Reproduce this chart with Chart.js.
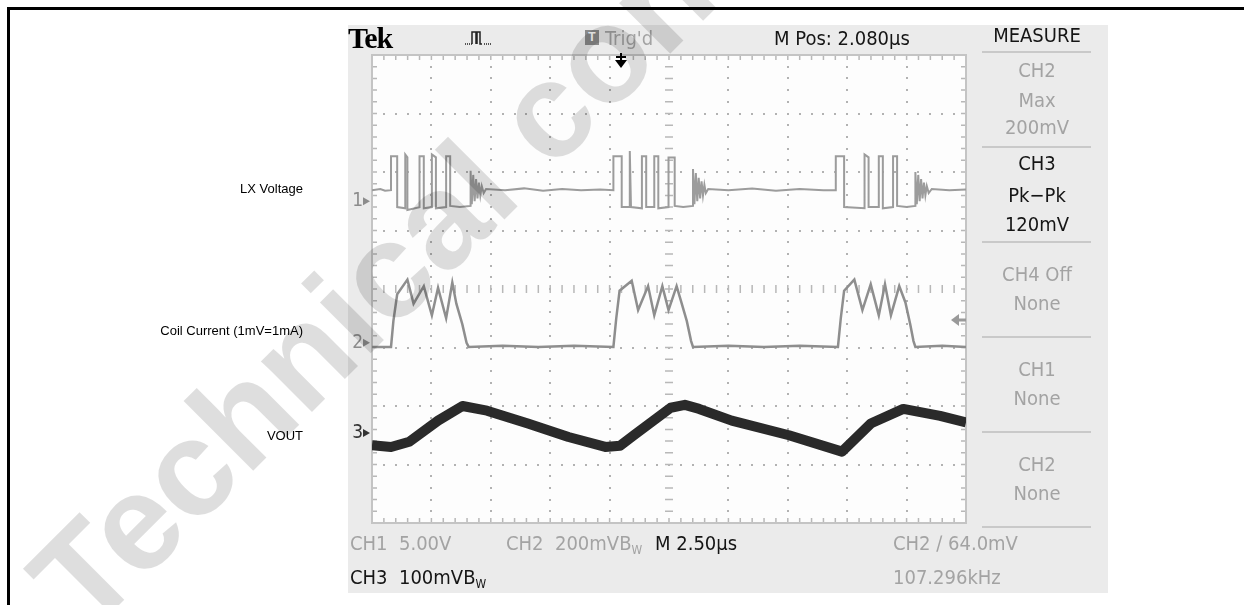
<!DOCTYPE html>
<html lang="en">
<head>
<meta charset="UTF-8">
<title>Scope capture - LX Voltage / Coil Current / VOUT</title>
<script src="https://cdn.jsdelivr.net/npm/chart.js"></script>
<style>
    body {
        margin: 0;
        width: 1244px;
        height: 605px;
        overflow: hidden;
        background: #fff;
        position: relative;
        font-family: "Liberation Sans", Arial, sans-serif;
    }
    #frame {
        position: absolute;
        left: 7px; top: 7px;
        width: 1300px; height: 700px;
        border-left: 3px solid #000;
        border-top: 3px solid #000;
    }
    #panel {
        position: absolute;
        left: 348px; top: 25px;
        width: 760px; height: 568px;
        background: #ebebeb;
    }
    #scope { position: absolute; left: 0; top: 0; }
    .lbl {
        position: absolute;
        left: 3px; width: 300px;
        text-align: right;
        font-size: 13px; line-height: 14px;
        color: #000;
    }
    .t {
        position: absolute;
        font-family: "DejaVu Sans Condensed", "Liberation Sans Narrow", sans-serif;
        font-size: 20px; line-height: 22px;
        white-space: pre;
        color: #151515;
    }
    .g { color: #a3a3a3; }
    .m { left: 982px; width: 110px; text-align: center; }
    .sep {
        position: absolute;
        left: 982px; width: 109px; height: 2px;
        background: #c9c9c9;
    }
    .bw { font-size: 12px; position: relative; top: 4px; }
    #tek {
        position: absolute; left: 348px; top: 22px;
        font-family: "Liberation Serif", "DejaVu Serif", serif;
        font-weight: bold; font-size: 30px; line-height: 32px;
        letter-spacing: -1px; color: #000;
    }
    #tbox {
        position: absolute; left: 585px; top: 30px;
        width: 14px; height: 15px;
        background: #8a8a8a; color: #fff;
        font: bold 12px/15px "Liberation Sans", sans-serif;
        text-align: center;
    }
    #wm { position: absolute; left: 0; top: 0; pointer-events: none; }
</style>
</head>
<body>
<div id="frame"></div>
<div id="panel"></div>
<canvas id="scope" width="1244" height="605"></canvas>

<!-- channel labels left of the screen -->
<div class="lbl" style="top:182px">LX Voltage</div>
<div class="lbl" style="top:324px">Coil Current (1mV=1mA)</div>
<div class="lbl" style="top:429px">VOUT</div>

<!-- header -->
<div id="tek">Tek</div>
<svg style="position:absolute;left:463px;top:28px" width="32" height="20">
    <path d="M2 16h1M4 16h1M6 16h1M8 16h1" stroke="#222" stroke-width="1.5"/>
    <path d="M9 16V4h4v12M14 16V4h3v12h2" stroke="#222" stroke-width="1.5" fill="none"/>
    <path d="M21 16h1M23 16h1M25 16h1M27 16h1" stroke="#222" stroke-width="1.5"/>
</svg>
<div id="tbox">T</div>
<div class="t g" style="left:605px;top:27px">Trig'd</div>
<div class="t" style="left:774px;top:27px">M Pos: 2.080µs</div>

<!-- measure menu -->
<div class="t m" style="top:24px">MEASURE</div>
<div class="sep" style="top:51px"></div>
<div class="t m g" style="top:59px">CH2</div>
<div class="t m g" style="top:89px">Max</div>
<div class="t m g" style="top:116px">200mV</div>
<div class="sep" style="top:146px"></div>
<div class="t m" style="top:152px">CH3</div>
<div class="t m" style="top:184px">Pk−Pk</div>
<div class="t m" style="top:213px">120mV</div>
<div class="sep" style="top:241px"></div>
<div class="t m g" style="top:263px">CH4 Off</div>
<div class="t m g" style="top:292px">None</div>
<div class="sep" style="top:336px"></div>
<div class="t m g" style="top:358px">CH1</div>
<div class="t m g" style="top:387px">None</div>
<div class="sep" style="top:431px"></div>
<div class="t m g" style="top:453px">CH2</div>
<div class="t m g" style="top:482px">None</div>
<div class="sep" style="top:526px"></div>

<!-- bottom status lines -->
<div class="t g" style="left:350px;top:532px">CH1  5.00V</div>
<div class="t g" style="left:506px;top:532px">CH2  200mVB<span class="bw">W</span></div>
<div class="t" style="left:655px;top:532px">M 2.50µs</div>
<div class="t g" style="left:893px;top:532px">CH2 ∕ 64.0mV</div>
<div class="t" style="left:350px;top:566px">CH3  100mVB<span class="bw">W</span></div>
<div class="t g" style="left:893px;top:566px">107.296kHz</div>

<svg id="wm" width="1244" height="605">
    <text x="88" y="636" transform="rotate(-45 88 636)" font-family="Liberation Sans, Arial, sans-serif"
          font-weight="bold" font-size="136" fill="#000" fill-opacity="0.13">Technical content</text>
</svg>

<script>
    // Horizontal: time in µs (M 2.50µs/div, 10 divisions)
    // Vertical: screen divisions, 0 at the bottom of the graticule, 8 at the top
    const timeMin = 0, timeMax = 25;
    const divMin = 0, divMax = 8;

    // CH1 - LX voltage (switch node)
    const lxTime = [
        0.00, 0.35, 0.55, 0.80, 0.80, 1.06, 1.06, 1.40, 1.40, 1.49, 1.49, 2.00, 2.00, 2.18, 2.18,
        2.52, 2.52, 2.69, 2.69, 3.12, 3.12, 3.29, 3.29, 3.70, 4.15,
        4.15, 4.20, 4.26, 4.32, 4.38, 4.44, 4.50, 4.56, 4.62, 4.70, 4.80,
        5.60, 6.40, 7.20, 8.00, 8.80, 9.60,
        10.16, 10.16, 10.51, 10.51, 10.85, 10.85, 10.90, 11.36, 11.36, 11.54, 11.54, 11.88, 11.88,
        12.05, 12.05, 12.48, 12.48, 12.74, 12.74, 13.10, 13.51,
        13.51, 13.57, 13.63, 13.69, 13.75, 13.81, 13.87, 13.93, 13.99, 14.05, 14.15,
        15.00, 16.00, 17.00, 18.00, 19.00,
        19.52, 19.52, 19.87, 19.87, 20.73, 20.73, 20.90, 20.90, 21.33, 21.33, 21.50, 21.50,
        21.93, 21.93, 22.10, 22.10, 22.50, 22.87,
        22.87, 22.93, 22.99, 23.05, 23.11, 23.17, 23.23, 23.29, 23.35, 23.43, 23.56,
        24.30, 25.00
    ];
    const lxLevel = [
        5.69, 5.71, 5.68, 5.69, 6.27, 6.27, 5.40, 5.38, 6.30, 6.25, 5.35, 5.40, 6.27, 6.27, 5.38,
        5.40, 6.30, 6.25, 5.38, 5.40, 6.27, 6.27, 5.42, 5.40, 5.42,
        6.02, 5.45, 5.95, 5.50, 5.88, 5.55, 5.82, 5.60, 5.76, 5.64, 5.71,
        5.69, 5.72, 5.68, 5.71, 5.69, 5.70,
        5.69, 6.27, 6.27, 5.40, 5.40, 6.36, 5.40, 5.38, 6.27, 6.27, 5.40, 5.40, 6.27,
        6.27, 5.38, 5.40, 6.25, 6.25, 5.42, 5.40, 5.42,
        6.05, 5.45, 5.98, 5.50, 5.90, 5.55, 5.84, 5.60, 5.78, 5.64, 5.71,
        5.69, 5.72, 5.68, 5.71, 5.69,
        5.69, 6.27, 6.27, 5.40, 5.38, 6.30, 6.25, 5.40, 5.40, 6.27, 6.27, 5.38,
        5.40, 6.27, 6.27, 5.42, 5.40, 5.42,
        6.00, 5.45, 5.95, 5.50, 5.88, 5.55, 5.82, 5.60, 5.76, 5.64, 5.71,
        5.69, 5.70
    ];

    // CH2 - coil current
    const coilTime = [
        0.00, 0.80, 0.90, 1.06, 1.49, 1.75, 2.18, 2.52, 2.78, 3.12, 3.38, 3.55, 3.80, 3.98, 4.07,
        5.50, 7.00, 8.50,
        10.16, 10.28, 10.42, 10.93, 11.20, 11.62, 11.88, 12.22, 12.48, 12.82, 13.00, 13.25, 13.43, 13.51,
        15.00, 16.50, 18.00,
        19.61, 19.73, 19.87, 20.30, 20.64, 20.99, 21.33, 21.59, 21.84, 22.19, 22.45, 22.65, 22.79, 22.87,
        24.00, 25.00
    ];
    const coilLevel = [
        3.01, 3.01, 3.45, 3.91, 4.16, 3.75, 4.05, 3.55, 4.02, 3.50, 4.11, 3.75, 3.40, 3.08, 3.01,
        3.03, 3.01, 3.03,
        3.01, 3.50, 3.97, 4.14, 3.64, 4.05, 3.55, 4.05, 3.64, 4.05, 3.80, 3.45, 3.11, 3.01,
        3.03, 3.01, 3.03,
        3.01, 3.50, 3.97, 4.16, 3.64, 4.08, 3.55, 4.08, 3.55, 4.05, 3.77, 3.40, 3.11, 3.01,
        3.03, 3.01
    ];

    // CH3 - VOUT ripple
    const voutTime = [
        0.00, 0.80, 1.57, 2.78, 3.81, 4.84, 6.56, 8.27, 9.82, 10.44, 11.02, 12.57, 13.17, 13.77,
        15.14, 17.55, 19.78, 20.99, 22.36, 23.91, 25.00
    ];
    const voutLevel = [
        1.33, 1.30, 1.39, 1.75, 2.00, 1.92, 1.70, 1.47, 1.30, 1.32, 1.50, 1.97, 2.02, 1.95,
        1.75, 1.50, 1.22, 1.70, 1.95, 1.83, 1.72
    ];

    // channel ground markers and trigger
    const channelNames = ['1', '2', '3'];
    const channelOffsets = [5.50, 3.08, 1.54];
    const triggerTime = 10.48;
    const triggerLevel = 3.47;

    const toPoints = (xs, ys) => xs.map((t, i) => ({ x: t, y: ys[i] }));

    // graticule, channel markers and trigger markers
    const scopeScreen = {
        id: 'scopeScreen',
        beforeDatasetsDraw(chart) {
            const { ctx, chartArea: a, scales: { x, y } } = chart;
            ctx.save();
            ctx.fillStyle = '#fdfdfd';
            ctx.fillRect(a.left, a.top, a.width, a.height);

            // dotted division lines
            ctx.fillStyle = '#b2b2b2';
            for (let i = 1; i < 10; i++) {
                if (i === 5) continue;
                const px = Math.round(x.getPixelForValue(i * 2.5));
                for (let k = 1; k < 40; k++) {
                    const py = Math.round(y.getPixelForValue(k * 0.2));
                    ctx.fillRect(px - 1, py - 1, 2, 2);
                }
            }
            for (let j = 1; j < 8; j++) {
                if (j === 4) continue;
                const py = Math.round(y.getPixelForValue(j));
                for (let k = 1; k < 50; k++) {
                    const px = Math.round(x.getPixelForValue(k * 0.5));
                    ctx.fillRect(px - 1, py - 1, 2, 2);
                }
            }

            // centre cross and edge rulers
            const cx = x.getPixelForValue(12.5), cy = y.getPixelForValue(4);
            ctx.strokeStyle = '#b8b8b8';
            ctx.lineWidth = 1.5;
            ctx.beginPath();
            for (let k = 1; k < 40; k++) {
                const py = y.getPixelForValue(k * 0.2);
                ctx.moveTo(cx - 4, py); ctx.lineTo(cx + 4, py);
                ctx.moveTo(a.left, py); ctx.lineTo(a.left + 5, py);
                ctx.moveTo(a.right, py); ctx.lineTo(a.right - 5, py);
            }
            for (let k = 1; k < 50; k++) {
                const px = x.getPixelForValue(k * 0.5);
                ctx.moveTo(px, cy - 4); ctx.lineTo(px, cy + 4);
                ctx.moveTo(px, a.top); ctx.lineTo(px, a.top + 5);
                ctx.moveTo(px, a.bottom); ctx.lineTo(px, a.bottom - 5);
            }
            ctx.stroke();
            ctx.strokeStyle = '#c4c4c4';
            ctx.lineWidth = 2;
            ctx.strokeRect(a.left, a.top, a.width, a.height);
            ctx.restore();
        },
        afterDatasetsDraw(chart) {
            const { ctx, chartArea: a, scales: { x, y } } = chart;
            ctx.save();
            ctx.font = '19px "DejaVu Sans Condensed", sans-serif';
            ctx.textAlign = 'right';
            ctx.textBaseline = 'middle';
            channelOffsets.forEach((d, i) => {
                const py = y.getPixelForValue(d);
                ctx.fillStyle = i === 2 ? '#333' : '#8c8c8c';
                ctx.fillText(channelNames[i], a.left - 9, py);
                ctx.beginPath();
                ctx.moveTo(a.left - 9, py - 4);
                ctx.lineTo(a.left - 2, py);
                ctx.lineTo(a.left - 9, py + 4);
                ctx.fill();
            });

            // trigger position arrow
            const tx = x.getPixelForValue(triggerTime);
            ctx.fillStyle = '#000';
            ctx.fillRect(tx - 1, a.top - 2, 2, 9);
            ctx.fillRect(tx - 5, a.top + 1, 10, 2);
            ctx.beginPath();
            ctx.moveTo(tx - 6, a.top + 5);
            ctx.lineTo(tx + 6, a.top + 5);
            ctx.lineTo(tx, a.top + 13);
            ctx.fill();

            // trigger level arrow
            const ty = y.getPixelForValue(triggerLevel);
            ctx.fillStyle = '#9a9a9a';
            ctx.beginPath();
            ctx.moveTo(a.right - 15, ty);
            ctx.lineTo(a.right - 7, ty - 6);
            ctx.lineTo(a.right - 7, ty + 6);
            ctx.fill();
            ctx.fillRect(a.right - 8, ty - 1.5, 8, 3);
            ctx.restore();
        }
    };

    new Chart(document.getElementById('scope').getContext('2d'), {
        type: 'line',
        data: {
            datasets: [
                {
                    label: 'LX Voltage',
                    data: toPoints(lxTime, lxLevel),
                    borderColor: '#9c9c9c',
                    borderWidth: 2
                },
                {
                    label: 'Coil Current',
                    data: toPoints(coilTime, coilLevel),
                    borderColor: '#8e8e8e',
                    borderWidth: 2.5
                },
                {
                    label: 'VOUT',
                    data: toPoints(voutTime, voutLevel),
                    borderColor: '#2a2a2a',
                    borderWidth: 10,
                    borderJoinStyle: 'round'
                }
            ]
        },
        options: {
            responsive: false,
            animation: false,
            elements: { point: { radius: 0 }, line: { tension: 0 } },
            layout: { padding: { left: 372, right: 278, top: 55, bottom: 82 } },
            plugins: { legend: { display: false }, tooltip: { enabled: false } },
            scales: {
                x: { type: 'linear', min: timeMin, max: timeMax, display: false },
                y: { type: 'linear', min: divMin, max: divMax, display: false }
            }
        },
        plugins: [scopeScreen]
    });
</script>
</body>
</html>
